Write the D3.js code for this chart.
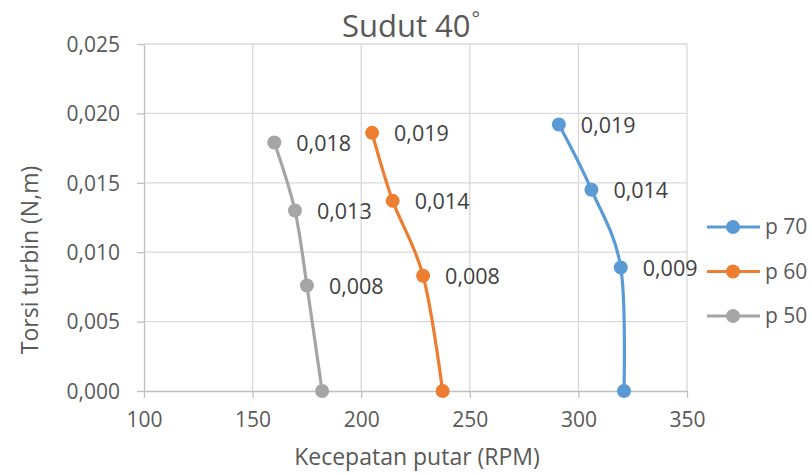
<!DOCTYPE html>
<html><head><meta charset="utf-8">
<script src="https://cdn.jsdelivr.net/npm/d3@7"></script>
<style>body{margin:0;background:#fff}svg{display:block;font-family:"Open Sans",sans-serif}</style>
</head><body><svg id="c" width="812" height="475"></svg>
<script>
const seriesNames = ["p 70", "p 60", "p 50"];
const colors = ["#5B9BD5", "#ED7D31", "#A5A5A5"];
const rpm70 = [291, 306, 319.5, 321];
const torque70 = [0.0192, 0.0145, 0.0089, 0];
const labels70 = ["0,019", "0,014", "0,009", null];
const rpm60 = [205, 214.5, 228.5, 237.5];
const torque60 = [0.0186, 0.0137, 0.0083, 0];
const labels60 = ["0,019", "0,014", "0,008", null];
const rpm50 = [160, 169.5, 175, 182];
const torque50 = [0.0179, 0.0130, 0.0076, 0];
const labels50 = ["0,018", "0,013", "0,008", null];
const xTicks = [100, 150, 200, 250, 300, 350];
const yTicks = [0, 0.005, 0.010, 0.015, 0.020, 0.025];

const series = [
  {name: seriesNames[0], color: colors[0], x: rpm70, y: torque70, lab: labels70},
  {name: seriesNames[1], color: colors[1], x: rpm60, y: torque60, lab: labels60},
  {name: seriesNames[2], color: colors[2], x: rpm50, y: torque50, lab: labels50}
];

const svg = d3.select("#c");
const L = 144, R = 687, T = 44, B = 391;
const x = d3.scaleLinear().domain([100, 350]).range([L, R]);
const y = d3.scaleLinear().domain([0, 0.025]).range([B, T]);
const fmt = v => d3.format(".3f")(v).replace(".", ",");
const txt = "#595959";

// gridlines
svg.append("g").selectAll("line").data(yTicks.slice(1)).join("line")
  .attr("x1", L).attr("x2", R).attr("y1", d => y(d)).attr("y2", d => y(d))
  .attr("stroke", "#d9d9d9").attr("stroke-width", 1.3);
svg.append("g").selectAll("line").data(xTicks.slice(1)).join("line")
  .attr("x1", d => x(d)).attr("x2", d => x(d)).attr("y1", T).attr("y2", B)
  .attr("stroke", "#d9d9d9").attr("stroke-width", 1.3);

// axes
const xa = svg.append("g").attr("transform", `translate(0,${B})`)
  .call(d3.axisBottom(x).tickValues(xTicks).tickSize(7).tickSizeOuter(0).tickPadding(14));
const ya = svg.append("g").attr("transform", `translate(${L},0)`)
  .call(d3.axisLeft(y).tickValues(yTicks).tickFormat(fmt).tickSize(7).tickSizeOuter(0).tickPadding(17));
[xa, ya].forEach(a => {
  a.selectAll("path,line").attr("stroke", "#bfbfbf").attr("stroke-width", 1.3);
  a.selectAll("text").attr("fill", txt).style("font-size", "21px").style("font-family", '"Open Sans",sans-serif');
});
ya.selectAll("text").attr("dy", "0.35em");

// lines
const line = d3.line().x(d => x(d[0])).y(d => y(d[1])).curve(d3.curveCatmullRom.alpha(0));
series.forEach(s => {
  const pts = s.x.map((v, i) => [v, s.y[i], s.lab[i]]);
  svg.append("path").datum(pts).attr("d", line).attr("fill", "none")
    .attr("stroke", s.color).attr("stroke-width", 3.2).attr("stroke-linecap", "round");
  svg.append("g").selectAll("circle").data(pts).join("circle")
    .attr("cx", d => x(d[0])).attr("cy", d => y(d[1])).attr("r", 7).attr("fill", s.color);
  svg.append("g").selectAll("text").data(pts.filter(d => d[2])).join("text")
    .attr("x", d => x(d[0]) + 22).attr("y", d => y(d[1]) + 1).attr("dy", "0.35em")
    .attr("fill", "#404040").style("font-size", "21.5px").text(d => d[2]);
});

// title
const t = svg.append("text").attr("x", 342).attr("y", 37)
  .attr("fill", txt).style("font-size", "31px");
t.append("tspan").text("Sudut 40");
t.append("tspan").text("°").attr("dx", 1).attr("dy", -11).style("font-size", "20px");

// axis titles
svg.append("text").attr("x", 417).attr("y", 465).attr("text-anchor", "middle")
  .attr("fill", txt).style("font-size", "23px").text("Kecepatan putar (RPM)");
svg.append("text").attr("transform", "translate(38,260) rotate(-90)").attr("text-anchor", "middle")
  .attr("fill", txt).style("font-size", "23px").text("Torsi turbin (N,m)");

// legend
const lg = svg.append("g");
series.forEach((s, i) => {
  const ly = 227 + i * 44.5;
  lg.append("line").attr("x1", 707).attr("x2", 760).attr("y1", ly).attr("y2", ly)
    .attr("stroke", s.color).attr("stroke-width", 3.2);
  lg.append("circle").attr("cx", 733).attr("cy", ly).attr("r", 7).attr("fill", s.color);
  lg.append("text").attr("x", 765).attr("y", ly).attr("dy", "0.35em").attr("fill", txt)
    .style("font-size", "21px").text(s.name);
});
</script></body></html>
